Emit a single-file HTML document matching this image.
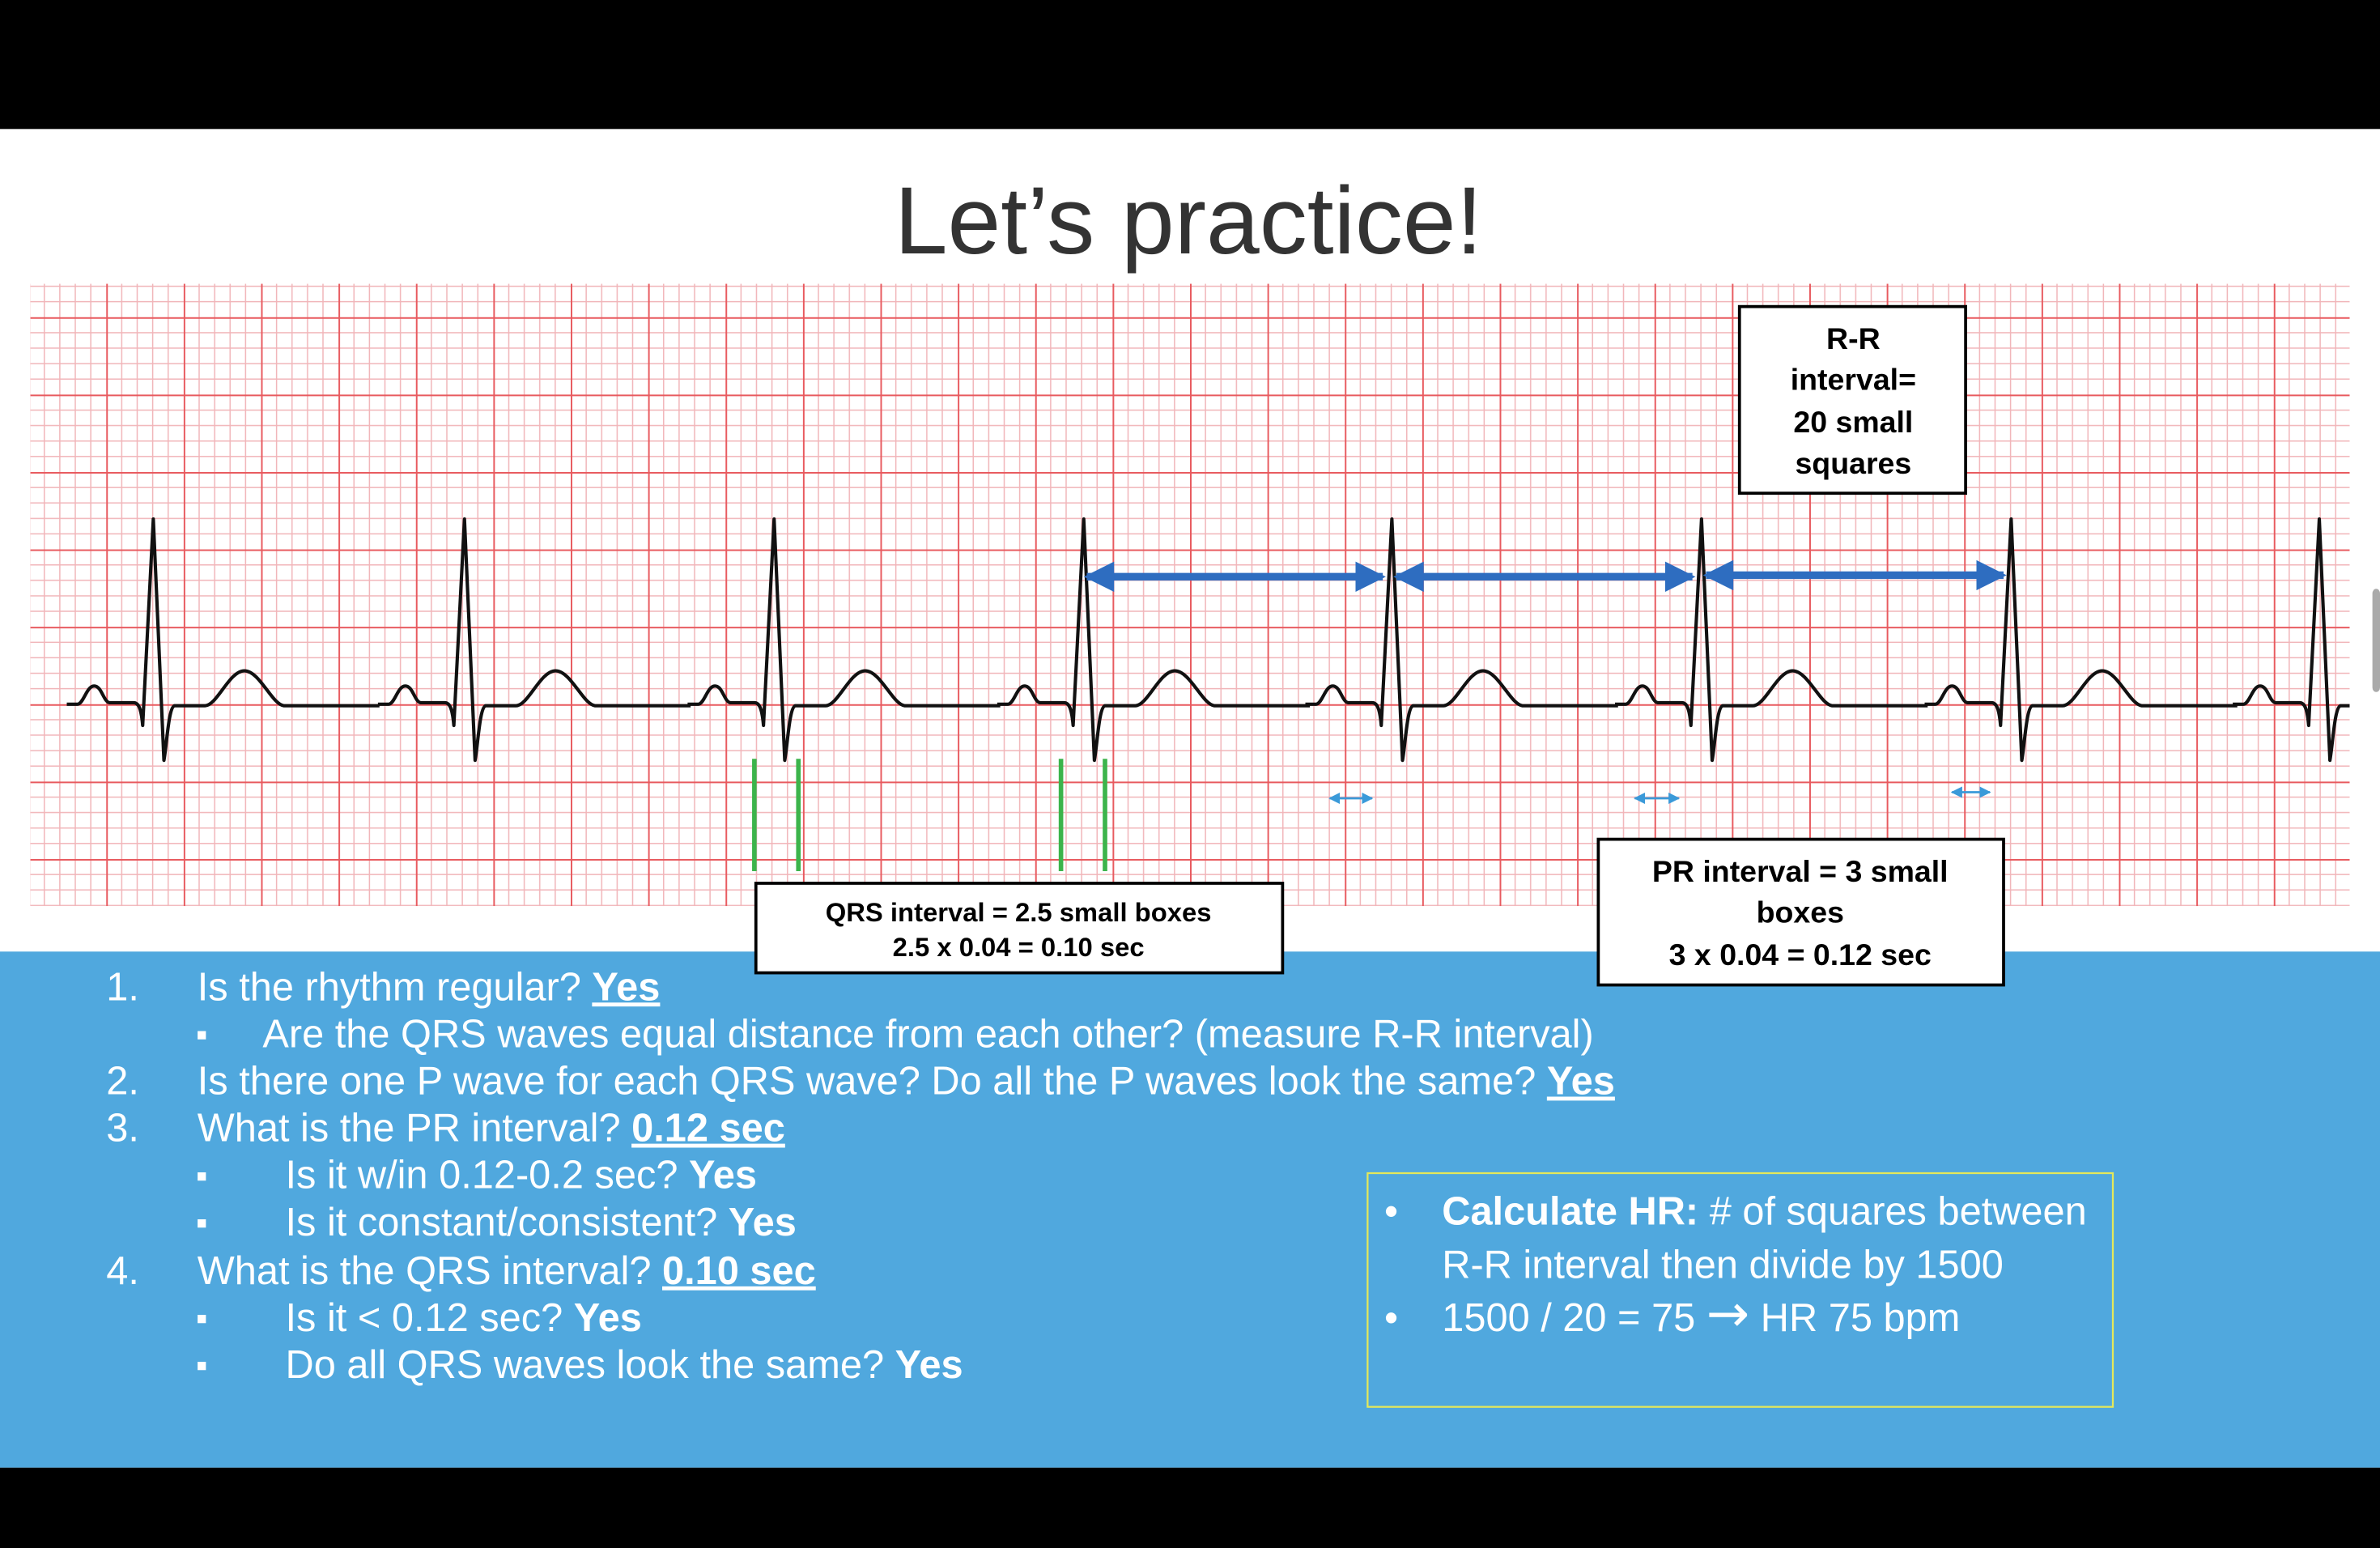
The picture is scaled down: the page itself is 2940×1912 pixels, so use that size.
<!DOCTYPE html>
<html><head><meta charset="utf-8"><style>
html,body{margin:0;padding:0;background:#000;}
svg{display:block;}
</style></head><body>
<svg width="2940" height="1912" viewBox="0 0 1568 1020" preserveAspectRatio="none" xmlns="http://www.w3.org/2000/svg">
<defs>
<pattern id="g" patternUnits="userSpaceOnUse" x="19" y="5" width="51" height="51">
<rect width="51" height="51" fill="#fff"/>
<g stroke="#f1b5b9" stroke-width="0.8">
<line x1="10.2" y1="0" x2="10.2" y2="51"/><line x1="20.4" y1="0" x2="20.4" y2="51"/><line x1="30.6" y1="0" x2="30.6" y2="51"/><line x1="40.8" y1="0" x2="40.8" y2="51"/>
<line y1="10.2" x1="0" y2="10.2" x2="51"/><line y1="20.4" x1="0" y2="20.4" x2="51"/><line y1="30.6" x1="0" y2="30.6" x2="51"/><line y1="40.8" x1="0" y2="40.8" x2="51"/>
</g>
<g stroke="#e85a5f" stroke-width="1.1">
<line x1="0.5" y1="0" x2="0.5" y2="51"/><line y1="0.5" x1="0" y2="0.5" x2="51"/>
</g>
</pattern>
<clipPath id="c"><rect x="20" y="187" width="1528" height="410"/></clipPath>
<path id="beat" fill="none" stroke="#111" stroke-width="2.2" stroke-linejoin="round" d="M-57,464 H-50 C-46,464 -44,452 -39,452 C-34,452 -33,462 -29,463 H-13 C-10,463 -8,466 -7,478 L0,342 L7,501 C9,490 10,466 14,465 H34 C42,465 50,442 60,442 C70,442 78,464 86,465 H149"/>
<marker id="ah" viewBox="0 0 10 10" refX="9" refY="5" markerWidth="4" markerHeight="4" orient="auto-start-reverse"><path d="M0,0 L10,5 L0,10 z" fill="#2e6dc0"/></marker>
<marker id="ah2" viewBox="0 0 10 10" refX="9" refY="5" markerWidth="5" markerHeight="5" orient="auto-start-reverse"><path d="M0,0 L10,5 L0,10 z" fill="#3a9ad9"/></marker>
</defs>
<rect x="0" y="0" width="1568" height="1020" fill="#000"/>
<rect x="0" y="85" width="1568" height="882" fill="#fff"/>
<text x="783" y="167" text-anchor="middle" font-family="Liberation Sans, sans-serif" font-size="63" fill="#333">Let’s practice!</text>
<rect x="20" y="187" width="1528" height="410" fill="url(#g)"/>
<g clip-path="url(#c)">
<use href="#beat" x="101"/><use href="#beat" x="306"/><use href="#beat" x="510"/><use href="#beat" x="714"/>
<use href="#beat" x="917"/><use href="#beat" x="1121"/><use href="#beat" x="1325"/><use href="#beat" x="1528"/>
</g>
<rect x="1563" y="388" width="5" height="68" rx="3" fill="#aaa"/>
<g stroke="#2e6dc0" stroke-width="5" marker-start="url(#ah)" marker-end="url(#ah)">
<line x1="716" y1="380" x2="911" y2="380"/>
<line x1="920" y1="380" x2="1115" y2="380"/>
<line x1="1124" y1="379" x2="1320" y2="379"/>
</g>
<g stroke="#3a9ad9" stroke-width="1.5" marker-start="url(#ah2)" marker-end="url(#ah2)">
<line x1="876" y1="526" x2="904" y2="526"/>
<line x1="1077" y1="526" x2="1106" y2="526"/>
<line x1="1286" y1="522" x2="1311" y2="522"/>
</g>
<g stroke="#3cb44b" stroke-width="3">
<line x1="497" y1="500" x2="497" y2="574"/><line x1="526" y1="500" x2="526" y2="574"/>
<line x1="699" y1="500" x2="699" y2="574"/><line x1="728" y1="500" x2="728" y2="574"/>
</g>
<rect x="0" y="627" width="1568" height="340" fill="#50a8de"/>
<g font-family="Liberation Sans, sans-serif" font-weight="bold" fill="#000" text-anchor="middle">
<rect x="1146" y="202" width="149" height="123" fill="#fff" stroke="#000" stroke-width="2"/>
<text x="1221" y="230" font-size="20">R-R</text>
<text x="1221" y="257" font-size="20">interval=</text>
<text x="1221" y="285" font-size="20">20 small</text>
<text x="1221" y="312" font-size="20">squares</text>
<rect x="498" y="582" width="347" height="59" fill="#fff" stroke="#000" stroke-width="2"/>
<text x="671" y="607" font-size="17.5">QRS interval = 2.5 small boxes</text>
<text x="671" y="630" font-size="17.5">2.5 x 0.04 = 0.10 sec</text>
<rect x="1053" y="553" width="267" height="96" fill="#fff" stroke="#000" stroke-width="2"/>
<text x="1186" y="581" font-size="20">PR interval = 3 small</text>
<text x="1186" y="608" font-size="20">boxes</text>
<text x="1186" y="636" font-size="20">3 x 0.04 = 0.12 sec</text>
</g>
<g font-family="Liberation Sans, sans-serif" font-size="26" fill="#fff">
<text x="70" y="659">1.</text><text x="130" y="659">Is the rhythm regular? <tspan font-weight="bold" text-decoration="underline">Yes</tspan></text>
<text x="129" y="689" font-size="22">▪</text><text x="173" y="690">Are the QRS waves equal distance from each other? (measure R-R interval)</text>
<text x="70" y="721">2.</text><text x="130" y="721">Is there one P wave for each QRS wave? Do all the P waves look the same? <tspan font-weight="bold" text-decoration="underline">Yes</tspan></text>
<text x="70" y="752">3.</text><text x="130" y="752">What is the PR interval? <tspan font-weight="bold" text-decoration="underline">0.12 sec</tspan></text>
<text x="129" y="782" font-size="22">▪</text><text x="188" y="783">Is it w/in 0.12-0.2 sec? <tspan font-weight="bold">Yes</tspan></text>
<text x="129" y="813" font-size="22">▪</text><text x="188" y="814">Is it constant/consistent? <tspan font-weight="bold">Yes</tspan></text>
<text x="70" y="846">4.</text><text x="130" y="846">What is the QRS interval? <tspan font-weight="bold" text-decoration="underline">0.10 sec</tspan></text>
<text x="129" y="876" font-size="22">▪</text><text x="188" y="877">Is it &lt; 0.12 sec? <tspan font-weight="bold">Yes</tspan></text>
<text x="129" y="907" font-size="22">▪</text><text x="188" y="908">Do all QRS waves look the same? <tspan font-weight="bold">Yes</tspan></text>
</g>
<rect x="901" y="773" width="491" height="154" fill="none" stroke="#e4e85a" stroke-width="1.2"/>
<g font-family="Liberation Sans, sans-serif" font-size="26" fill="#fff">
<text x="912" y="807">•</text><text x="950" y="807"><tspan font-weight="bold">Calculate HR:</tspan> # of squares between</text>
<text x="950" y="842">R-R interval then divide by 1500</text>
<text x="912" y="877">•</text><text x="950" y="877">1500 / 20 = 75 <tspan font-size="34" font-family="DejaVu Sans, sans-serif">→</tspan> HR 75 bpm</text>
</g>
</svg>
</body></html>
